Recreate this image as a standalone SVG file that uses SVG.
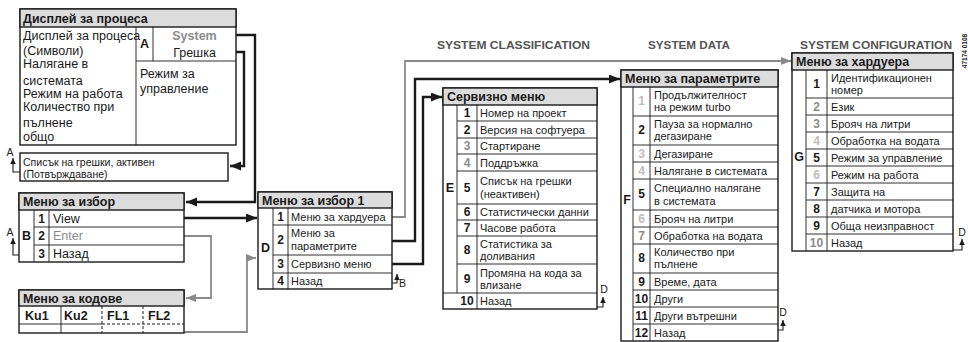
<svg xmlns="http://www.w3.org/2000/svg" width="968" height="342" viewBox="0 0 968 342">
<style>
.box{fill:#fff;stroke:#1a1a1a;stroke-width:1.4}
.hdr{fill:#dcdcdc;stroke:#1a1a1a;stroke-width:1.4}
.ln{stroke:#1a1a1a;stroke-width:0.9;fill:none}
.dl{stroke:#1a1a1a;stroke-width:1;fill:none;stroke-dasharray:3 2}
text{font-family:"Liberation Sans",Arial,sans-serif;fill:#1a1a1a}
.t{font-size:11px}
.tl{font-size:12.5px}
.ts{font-size:10.5px}
.h{font-size:12.5px;font-weight:bold}
.n{font-size:12px;font-weight:bold;text-anchor:middle}
.k{font-size:12.5px;font-weight:bold}
.g{fill:#8c8c8c}
.lg{fill:#bdbdbd}
.sec{font-size:10.5px;font-weight:bold;fill:#555}
.cb{stroke:#1a1a1a;stroke-width:2.4;fill:none}
.cg{stroke:#8a8a8a;stroke-width:1.8;fill:none}
.cs{stroke:#1a1a1a;stroke-width:1.1;fill:none}
</style>
<defs>
<marker id="ab" markerUnits="userSpaceOnUse" markerWidth="12" markerHeight="10" refX="11" refY="4.5" orient="auto"><path d="M0,0 L11,4.5 L0,9 z" fill="#1a1a1a"/></marker>
<marker id="ag" markerUnits="userSpaceOnUse" markerWidth="12" markerHeight="10" refX="10" refY="4" orient="auto"><path d="M0,0 L10,4 L0,8 z" fill="#8a8a8a"/></marker>
<marker id="as" markerUnits="userSpaceOnUse" markerWidth="8" markerHeight="8" refX="6" refY="2.75" orient="auto"><path d="M0,0 L6,2.75 L0,5.5 z" fill="#1a1a1a"/></marker>
</defs>

<!-- section titles -->
<text class="sec" x="437" y="49" textLength="153" lengthAdjust="spacingAndGlyphs">SYSTEM CLASSIFICATION</text>
<text class="sec" x="648" y="49" textLength="82" lengthAdjust="spacingAndGlyphs">SYSTEM DATA</text>
<text class="sec" x="800" y="49" textLength="152" lengthAdjust="spacingAndGlyphs">SYSTEM CONFIGURATION</text>
<text transform="translate(967,51) rotate(-90)" text-anchor="middle" style="font-size:6.5px;font-weight:bold">47174 0108</text>

<g id="connectors">
<path class="cb" d="M236 35 H255 V202 H186" marker-end="url(#ab)"/>
<path class="cb" d="M236 52 H244 V166 H230" marker-end="url(#ab)"/>
<path class="cb" d="M184 218 H257" marker-end="url(#ab)"/>
<path class="cg" d="M184 236 H211 V298 H186" marker-end="url(#ag)"/>
<path class="cg" d="M184 332 H247 V258 H256" marker-end="url(#ag)"/>
<path class="cg" d="M392 217 H405 V61 H791" marker-end="url(#ag)"/>
<path class="cb" d="M392 241 H415 V79 H620" marker-end="url(#ab)"/>
<path class="cb" d="M392 264 H423 V97 H442" marker-end="url(#ab)"/>
<!-- return markers -->
<path class="cs" d="M20 172 H13 V158" marker-end="url(#as)"/>
<path class="cs" d="M19 255 H13 V238" marker-end="url(#as)"/>
<path class="cs" d="M392 283 H397 V274" marker-end="url(#as)"/>
<path class="cs" d="M597 307 H603 V297" marker-end="url(#as)"/>
<path class="cs" d="M778 330 H783 V320" marker-end="url(#as)"/>
<path class="cs" d="M953 250 H962 V239" marker-end="url(#as)"/>
<text class="ts" x="10" y="156" text-anchor="middle">A</text>
<text class="ts" x="10" y="236" text-anchor="middle">A</text>
<text class="ts" x="399" y="287">B</text>
<text class="ts" x="604" y="293" text-anchor="middle">D</text>
<text class="ts" x="783" y="316" text-anchor="middle">D</text>
<text class="ts" x="962" y="236" text-anchor="middle">D</text>
</g>

<g id="display">
<rect class="box" x="20" y="9" width="216" height="136"/>
<rect class="hdr" x="20" y="9" width="216" height="18"/>
<text class="h" x="23" y="23">Дисплей за процеса</text>
<path class="ln" d="M136 27 V145 M153 27 V61 M136 61 H236"/>
<text class="tl" x="23" y="40">Дисплей за процеса</text>
<text class="tl" x="23" y="55">(Символи)</text>
<text class="tl" x="23" y="68">Налягане в</text>
<text class="tl" x="23" y="85">системата</text>
<text class="tl" x="23" y="98">Режим на работа</text>
<text class="tl" x="23" y="111">Количество при</text>
<text class="tl" x="23" y="127">пълнене</text>
<text class="tl" x="23" y="141">общо</text>
<text class="k" x="144.5" y="48" text-anchor="middle">A</text>
<text class="k g" x="194.5" y="40" text-anchor="middle">System</text>
<text class="tl" x="194.5" y="57" text-anchor="middle">Грешка</text>
<text class="tl" x="140" y="78">Режим за</text>
<text class="tl" x="140" y="93">управление</text>
</g>

<g id="errorlist">
<rect class="box" x="20" y="153" width="208" height="28"/>
<text class="ts" x="23" y="166">Списък на грешки, активен</text>
<text class="ts" x="23" y="178">(Потвърждаване)</text>
</g>

<g id="select">
<rect class="box" x="19" y="193" width="165" height="69"/>
<rect class="hdr" x="19" y="193" width="165" height="17"/>
<text class="h" x="23" y="206">Меню за избор</text>
<path class="ln" d="M34 210 V262 M49 210 V262 M34 227 H184 M34 245 H184"/>
<text class="k" x="26.5" y="240" text-anchor="middle">B</text>
<text class="n" x="41.5" y="223">1</text>
<text class="n" x="41.5" y="240">2</text>
<text class="n" x="41.5" y="258">3</text>
<text class="tl" x="53" y="223">View</text>
<text class="tl g" x="53" y="240">Enter</text>
<text class="tl" x="53" y="258">Назад</text>
</g>

<g id="codes">
<rect class="box" x="19" y="290" width="165" height="43"/>
<rect class="hdr" x="19" y="290" width="165" height="16"/>
<text class="h" x="23" y="303">Меню за кодове</text>
<path class="ln" d="M61 306 V333 M19 324 H102"/>
<path class="dl" d="M102 306 V333 M143 306 V333 M102 324 H184"/>
<text class="k" x="25" y="320">Ku1</text>
<text class="k" x="64" y="320">Ku2</text>
<text class="k" x="107" y="320">FL1</text>
<text class="k" x="148" y="320">FL2</text>
</g>

<g id="select1">
<rect class="box" x="258" y="192" width="134" height="97"/>
<rect class="hdr" x="258" y="192" width="134" height="16"/>
<text class="h" x="262" y="205">Меню за избор 1</text>
<path class="ln" d="M273 208 V289 M288 208 V289 M273 225 H392 M273 255 H392 M273 273 H392"/>
<text class="k" x="265.5" y="252" text-anchor="middle">D</text>
<text class="n" x="280.5" y="221">1</text>
<text class="n" x="280.5" y="244">2</text>
<text class="n" x="280.5" y="268">3</text>
<text class="n" x="280.5" y="285">4</text>
<text class="t" x="291" y="221">Меню за хардуера</text>
<text class="t" x="291" y="237">Меню за</text>
<text class="t" x="291" y="250">параметрите</text>
<text class="t" x="291" y="268">Сервизно меню</text>
<text class="t" x="291" y="285">Назад</text>
</g>

<g id="service">
<rect class="box" x="443" y="88" width="154" height="221"/>
<rect class="hdr" x="443" y="88" width="154" height="17"/>
<text class="h" x="447" y="101">Сервизно меню</text>
<path class="ln" d="M457 105 V293 M477 105 V309 M457 121 H597 M457 138 H597 M457 154 H597 M457 171 H597 M457 204 H597 M457 220 H597 M457 236 H597 M457 264 H597 M443 293 H597"/>
<text class="k" x="450" y="192" text-anchor="middle">E</text>
<text class="n" x="467" y="117">1</text>
<text class="n" x="467" y="134">2</text>
<text class="n g" x="467" y="150">3</text>
<text class="n g" x="467" y="167">4</text>
<text class="n" x="467" y="192">5</text>
<text class="n" x="467" y="216">6</text>
<text class="n" x="467" y="232">7</text>
<text class="n" x="467" y="254">8</text>
<text class="n" x="467" y="283">9</text>
<text class="n" x="467" y="305">10</text>
<text class="t" x="480" y="117">Номер на проект</text>
<text class="t" x="480" y="134">Версия на софтуера</text>
<text class="t" x="480" y="150">Стартиране</text>
<text class="t" x="480" y="167">Поддръжка</text>
<text class="t" x="480" y="185">Списък на грешки</text>
<text class="t" x="480" y="198">(неактивен)</text>
<text class="t" x="480" y="216">Статистически данни</text>
<text class="t" x="480" y="232">Часове работа</text>
<text class="t" x="480" y="248">Статистика за</text>
<text class="t" x="480" y="260">доливания</text>
<text class="t" x="480" y="277">Промяна на кода за</text>
<text class="t" x="480" y="289">влизане</text>
<text class="t" x="480" y="305">Назад</text>
</g>

<g id="params">
<rect class="box" x="621" y="70" width="157" height="271"/>
<rect class="hdr" x="621" y="70" width="157" height="17"/>
<text class="h" x="625" y="83">Меню за параметрите</text>
<path class="ln" d="M633 87 V341 M650 87 V341 M633 116 H778 M633 145 H778 M633 162 H778 M633 179 H778 M633 210 H778 M633 227 H778 M633 244 H778 M633 273 H778 M633 290 H778 M633 307 H778 M633 324 H778"/>
<text class="k" x="627" y="204" text-anchor="middle">F</text>
<text class="n lg" x="641.5" y="105">1</text>
<text class="n" x="641.5" y="134">2</text>
<text class="n lg" x="641.5" y="158">3</text>
<text class="n lg" x="641.5" y="175">4</text>
<text class="n" x="641.5" y="198">5</text>
<text class="n lg" x="641.5" y="223">6</text>
<text class="n g" x="641.5" y="240">7</text>
<text class="n" x="641.5" y="262">8</text>
<text class="n" x="641.5" y="286">9</text>
<text class="n" x="641.5" y="303">10</text>
<text class="n" x="641.5" y="320">11</text>
<text class="n" x="641.5" y="337">12</text>
<text class="t" x="654" y="99">Продължителност</text>
<text class="t" x="654" y="111">на режим turbo</text>
<text class="t" x="654" y="128">Пауза за нормално</text>
<text class="t" x="654" y="140">дегазиране</text>
<text class="t" x="654" y="158">Дегазиране</text>
<text class="t" x="654" y="175">Налягане в системата</text>
<text class="t" x="654" y="192">Специално налягане</text>
<text class="t" x="654" y="205">в системата</text>
<text class="t" x="654" y="223">Брояч на литри</text>
<text class="t" x="654" y="240">Обработка на водата</text>
<text class="t" x="654" y="256">Количество при</text>
<text class="t" x="654" y="268">пълнене</text>
<text class="t" x="654" y="286">Време, дата</text>
<text class="t" x="654" y="303">Други</text>
<text class="t" x="654" y="320">Други вътрешни</text>
<text class="t" x="654" y="337">Назад</text>
</g>

<g id="hardware">
<rect class="box" x="792" y="53" width="161" height="198"/>
<rect class="hdr" x="792" y="53" width="161" height="17"/>
<text class="h" x="796" y="66">Меню за хардуера</text>
<path class="ln" d="M806 70 V251 M827 70 V251 M806 98 H953 M806 115 H953 M806 132 H953 M806 149 H953 M806 166 H953 M806 183 H953 M806 200 H953 M806 217 H953 M806 234 H953"/>
<text class="k" x="799" y="161" text-anchor="middle">G</text>
<text class="n" x="816.5" y="88">1</text>
<text class="n g" x="816.5" y="111">2</text>
<text class="n g" x="816.5" y="128">3</text>
<text class="n lg" x="816.5" y="145">4</text>
<text class="n" x="816.5" y="162">5</text>
<text class="n lg" x="816.5" y="179">6</text>
<text class="n" x="816.5" y="196">7</text>
<text class="n" x="816.5" y="213">8</text>
<text class="n" x="816.5" y="230">9</text>
<text class="n g" x="816.5" y="247">10</text>
<text class="t" x="831" y="82">Идентификационен</text>
<text class="t" x="831" y="94">номер</text>
<text class="t" x="831" y="111">Език</text>
<text class="t" x="831" y="128">Брояч на литри</text>
<text class="t" x="831" y="145">Обработка на водата</text>
<text class="t" x="831" y="162">Режим за управление</text>
<text class="t" x="831" y="179">Режим на работа</text>
<text class="t" x="831" y="196">Защита на</text>
<text class="t" x="831" y="213">датчика и мотора</text>
<text class="t" x="831" y="230">Обща неизправност</text>
<text class="t" x="831" y="247">Назад</text>
</g>
</svg>
